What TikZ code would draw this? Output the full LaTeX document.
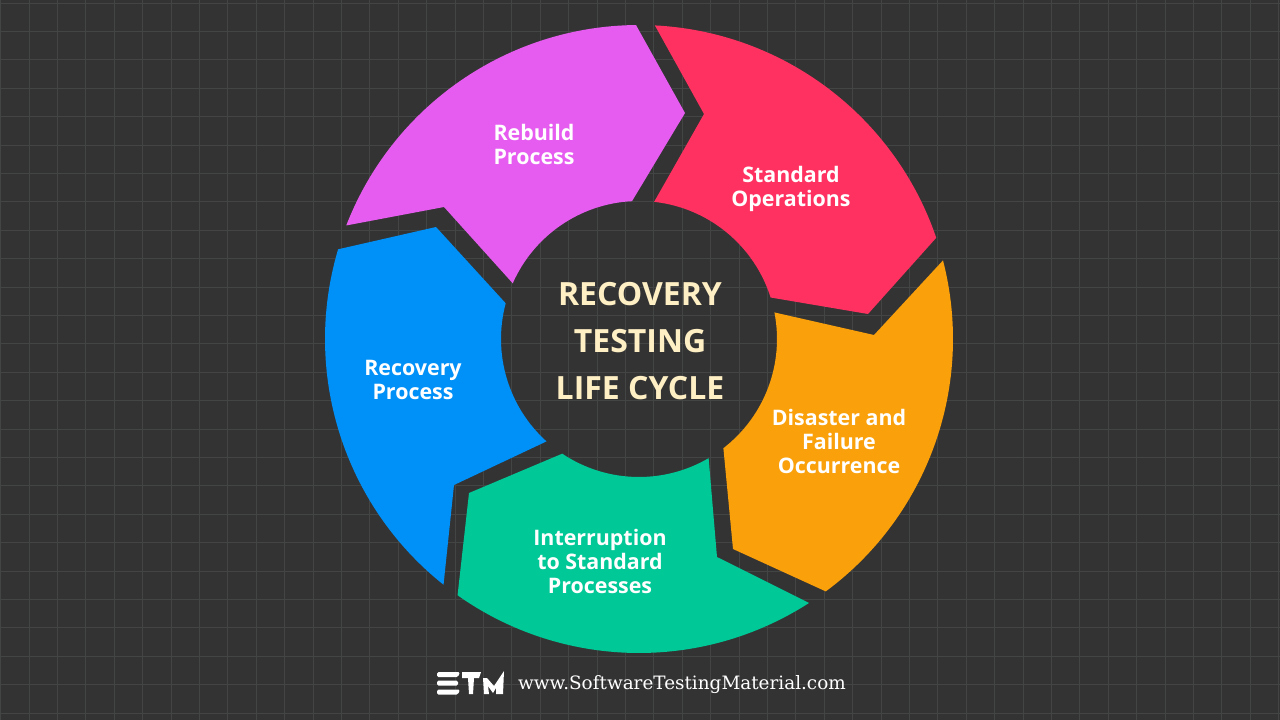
\documentclass[tikz,border=0pt]{standalone}
\usepackage{fontspec}
\usetikzlibrary{calc}
\setmainfont{Open Sans}
\newfontfamily\urlfont{DejaVu Serif}
\definecolor{bgc}{HTML}{333333}
\definecolor{gridc}{HTML}{434545}
\definecolor{pinkc}{HTML}{E65CF0}
\definecolor{redc}{HTML}{FF3160}
\definecolor{orangec}{HTML}{F9A00A}
\definecolor{greenc}{HTML}{00C896}
\definecolor{bluec}{HTML}{0091F8}
\definecolor{creamc}{HTML}{FFEFC4}
\tikzset{
  seglabel/.style={text=white,font=\bfseries\fontsize{21.4}{24}\selectfont,align=center,inner sep=0pt},
  centerlabel/.style={text=creamc,font=\bfseries\fontsize{32}{47}\selectfont,align=center,inner sep=0pt},
  urllabel/.style={text=white,font=\urlfont\fontsize{18.4}{20}\selectfont,anchor=west,inner sep=0pt}
}
\begin{document}
\begin{tikzpicture}[x=1pt,y=-1pt]
\useasboundingbox (0,0) rectangle (1280,720);
\fill[bgc] (0,0) rectangle (1280,720);
\foreach \i in {0,...,45} {
  \draw[gridc,line width=0.8pt] ({0.5+28.4*\i},0) -- ({0.5+28.4*\i},720);
}
\foreach \i in {0,...,25} {
  \draw[gridc,line width=0.8pt] (0,{3+28.4*\i}) -- (1280,{3+28.4*\i});
}
\coordinate (C) at (639,339);
% pink
\fill[pinkc] ($(C)+(201.2:314)$) arc[start angle=201.2,end angle=269.45,radius=314]
  -- (685,113) -- ($(C)+(267.1:138)$) arc[start angle=267.1,end angle=203.8,radius=138]
  -- (444,207) -- cycle;
% red
\fill[redc] ($(C)+(272.9:314)$) arc[start angle=272.9,end angle=341.2,radius=314]
  -- (868,314) -- ($(C)+(342.5:138)$) arc[start angle=342.5,end angle=276.3,radius=138]
  -- (704,114) -- cycle;
% orange
\fill[orangec] ($(C)+(-14.5:314)$) arc[start angle=-14.5,end angle=53.5,radius=314]
  -- (733,549) -- ($(C)+(52.3:138)$) arc[start angle=52.3,end angle=-11.1,radius=138]
  -- (874,335) -- cycle;
% green
\fill[greenc] ($(C)+(57.2:314)$) arc[start angle=57.2,end angle=125.3,radius=314]
  -- (469,493) -- ($(C)+(123.8:138)$) arc[start angle=123.8,end angle=59.7,radius=138]
  -- (717,557) -- cycle;
% blue
\fill[bluec] ($(C)+(128.5:314)$) arc[start angle=128.5,end angle=196.6,radius=314]
  -- (436,227) -- ($(C)+(195:138)$) arc[start angle=195,end angle=132.1,radius=138]
  -- (454,485) -- cycle;
\node[seglabel] (rebuild) at (534,144) {Rebuild\\Process};
\node[seglabel] (standard) at (791,189) {Standard\\Operations};
\node[seglabel] (disaster) at (839,441) {Disaster and\\Failure\\ Occurrence};
\node[seglabel] (interrupt) at (600,561) {Interruption\\to Standard\\Processes};
\node[seglabel] (recovery) at (413,380) {Recovery\\Process};
\node[centerlabel] (center) at (640,341) {RECOVERY\\TESTING\\LIFE CYCLE};
\node[urllabel] (url) at (518,685) {www.SoftwareTestingMaterial.com};
% logo
\fill[white,rounded corners=1.5pt] (437,672) -- (460,672) -- (458,677) -- (437,677) -- cycle;
\fill[white,rounded corners=1.5pt] (437,680.5) -- (458,680.5) -- (458,685.5) -- (437,685.5) -- cycle;
\fill[white,rounded corners=1.5pt] (437,689.5) -- (460,689.5) -- (458,694.5) -- (437,694.5) -- cycle;
\fill[white] (462,672) -- (481,672) -- (479,678) -- (474,678) -- (473,694) -- (469,694) -- (468,678) -- (462,678) -- cycle;
\fill[white] (483,678) -- (487,678) -- (494,686) -- (504,671) -- (503,694) -- (496,694) -- (496,688) -- (493,693) -- (488,686) -- (489,694) -- (484,694) -- cycle;
\end{tikzpicture}
\end{document}
